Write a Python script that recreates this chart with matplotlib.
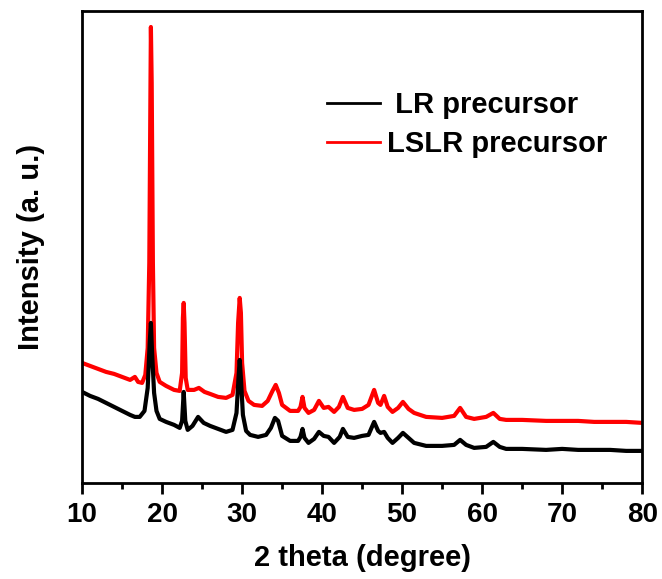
import matplotlib
matplotlib.use('Agg')
import matplotlib.pyplot as plt
from matplotlib.ticker import MultipleLocator

# data (2 theta, intensity in a.u.)
lr_theta = [10.0, 11.0, 12.0, 13.0, 14.0, 15.0, 16.0, 16.6, 17.2, 17.8, 18.2, 18.45, 18.6, 18.75,
            19.0, 19.3, 19.7, 20.5, 21.5, 22.2, 22.5, 22.7, 22.9, 23.2, 23.8, 24.5, 25.2, 26.0,
            27.0, 28.0, 28.8, 29.3, 29.55, 29.7, 29.85, 30.1, 30.5, 31.0, 32.0, 33.0, 33.6, 34.1,
            34.5, 35.0, 36.0, 37.0, 37.3, 37.55, 37.8, 38.3, 39.0, 39.6, 40.2, 40.8, 41.5, 42.2,
            42.6, 43.2, 44.0, 45.0, 45.8, 46.5, 47.0, 47.3, 47.75, 48.2, 48.8, 49.5, 50.1, 50.8,
            51.5, 53.0, 55.0, 56.5, 57.25, 58.0, 59.0, 60.5, 61.4, 62.2, 63.0, 65.0, 68.0, 70.0,
            72.0, 74.0, 76.0, 78.0, 80.0]
lr_int = [91, 87, 84, 80, 76, 72, 68, 66, 66, 72, 95, 140, 160, 130,
          90, 72, 64, 61, 58, 55, 62, 91, 62, 53, 57, 66, 60, 57,
          54, 51, 53, 70, 105, 123, 105, 68, 52, 48, 46, 48, 55, 65,
          62, 47, 42, 42, 46, 54, 45, 40, 44, 51, 47, 46, 40, 46,
          54, 46, 45, 47, 48, 61, 52, 50, 51, 45, 40, 45, 50, 45,
          40, 37, 37, 38, 43, 38, 35, 36, 41, 36, 34, 34, 33, 34,
          33, 33, 33, 32, 32]

lslr_theta = [10.0, 11.0, 12.0, 13.0, 14.0, 15.0, 16.0, 16.6, 17.0, 17.5, 17.9, 18.2, 18.4, 18.55,
              18.6, 18.7, 18.85, 19.0, 19.3, 19.7, 20.5, 21.5, 22.2, 22.5, 22.6, 22.7, 22.8, 22.95,
              23.2, 24.0, 24.6, 25.3, 26.0, 27.0, 28.0, 28.8, 29.3, 29.5, 29.7, 29.85, 30.0, 30.3,
              30.8, 31.5, 32.5, 33.2, 33.8, 34.2, 34.6, 35.0, 36.0, 37.0, 37.3, 37.55, 37.8, 38.3,
              39.0, 39.6, 40.2, 40.8, 41.5, 42.1, 42.6, 43.2, 44.0, 45.0, 45.8, 46.5, 47.0, 47.3,
              47.75, 48.2, 48.8, 49.5, 50.1, 50.8, 51.5, 53.0, 55.0, 56.5, 57.25, 58.0, 59.0, 60.5,
              61.4, 62.2, 63.0, 65.0, 68.0, 70.0, 72.0, 74.0, 76.0, 78.0, 80.0]
lslr_int = [120, 117, 114, 111, 109, 106, 103, 106, 101, 100, 108, 135, 220, 400,
            456, 400, 220, 135, 110, 101, 97, 93, 92, 110, 165, 180, 160, 105,
            93, 93, 95, 91, 89, 86, 85, 88, 110, 160, 185, 170, 120, 92,
            82, 78, 77, 82, 92, 98, 90, 78, 72, 72, 76, 86, 75, 70,
            73, 82, 75, 76, 71, 76, 86, 75, 73, 74, 78, 93, 80, 78,
            87, 76, 71, 75, 81, 74, 70, 66, 65, 67, 75, 66, 64, 66,
            70, 64, 63, 63, 62, 62, 62, 61, 61, 61, 60]

legend_labels = [' LR precursor', 'LSLR precursor']

plt.rcParams['font.family'] = 'Liberation Sans'
plt.rcParams['font.weight'] = 'bold'

fig = plt.figure(figsize=(6.62, 5.79), dpi=100)
ax = fig.add_axes([0.124, 0.166, 0.846, 0.815])

red_line, = ax.plot(lslr_theta, lslr_int, color='#ff0000', lw=3)
black_line, = ax.plot(lr_theta, lr_int, color='black', lw=3)

ax.set_xlim(10, 80)
ax.set_ylim(0, 472)
ax.set_yticks([])
ax.xaxis.set_major_locator(MultipleLocator(10))
ax.xaxis.set_minor_locator(MultipleLocator(5))
ax.tick_params(axis='x', which='major', direction='out', length=8, width=2,
               labelsize=20, pad=6)
ax.tick_params(axis='x', which='minor', direction='out', length=4, width=2)
for sp in ax.spines.values():
    sp.set_linewidth(2)

ax.set_xlabel('2 theta (degree)', fontsize=21, fontweight='bold', labelpad=11)
ax.set_ylabel('Intensity (a. u.)', fontsize=21, fontweight='bold', labelpad=27)

leg = ax.legend([black_line, red_line], legend_labels, loc='upper left',
                bbox_to_anchor=(0.4375, 0.83), frameon=False, fontsize=21,
                handlelength=1.8, handletextpad=0.25, labelspacing=0.38,
                borderpad=0, borderaxespad=0)
for ln in leg.get_lines():
    ln.set_linewidth(2)

fig.savefig('out.png', dpi=100)
